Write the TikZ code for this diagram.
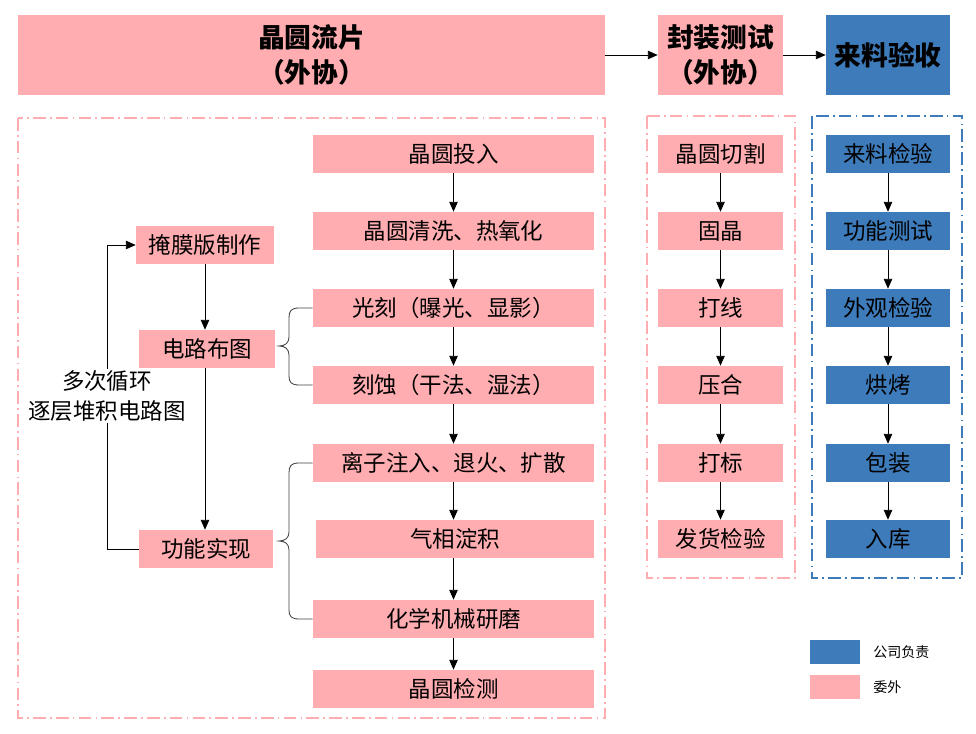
\documentclass[tikz,border=0pt]{standalone}
\usepackage{fontspec}
\setmainfont{Noto Sans CJK SC}
\usetikzlibrary{arrows.meta,positioning}
\definecolor{wafpink}{RGB}{255,173,176}
\definecolor{ownblue}{RGB}{61,123,186}

\begin{document}
\begin{tikzpicture}[
    x=0.025cm, y=-0.025cm,
    font=\fontsize{16}{19}\selectfont,
    pinkbox/.style={fill=wafpink, inner sep=0pt, minimum height=0.95cm, align=center},
    bluebox/.style={fill=ownblue, inner sep=0pt, minimum height=0.95cm, align=center},
    headbox/.style={inner sep=0pt, minimum height=2cm, align=center, font=\fontsize{19}{25}\selectfont\bfseries},
    frame/.style={dash pattern=on 9pt off 3pt on 1.2pt off 3pt, line width=1.2pt},
    line/.style={-{Triangle[length=7pt,width=6pt]}, semithick},
    brace/.style={semithick, black!75}
]
    \useasboundingbox (0,0) rectangle (976,734);

    \node[headbox, fill=wafpink, minimum width=14.675cm] (tapeout) at (311.5,55) {晶圆流片\\（外协）};
    \node[headbox, fill=wafpink, minimum width=3.125cm] (package) at (720.5,55) {封装测试\\（外协）};
    \node[headbox, fill=ownblue, minimum width=3.1cm] (accept) at (888,55) {来料验收};

    \draw[frame, wafpink] (18,118) rectangle (605,718);
    \draw[frame, wafpink] (647,116) rectangle (795,578);
    \draw[frame, ownblue] (812,116) rectangle (962,578);

    \node[pinkbox, minimum width=7.025cm] (wafin) at (453.5,154) {晶圆投入};
    \node[pinkbox, minimum width=7.025cm] (clean) at (453.5,231) {晶圆清洗、热氧化};
    \node[pinkbox, minimum width=7.025cm] (litho) at (453.5,308) {光刻（曝光、显影）};
    \node[pinkbox, minimum width=7.025cm] (etch) at (453.5,385) {刻蚀（干法、湿法）};
    \node[pinkbox, minimum width=7.025cm] (implant) at (453.5,463) {离子注入、退火、扩散};
    \node[pinkbox, minimum width=6.95cm] (depo) at (455,539) {气相淀积};
    \node[pinkbox, minimum width=7.025cm] (cmp) at (453.5,619) {化学机械研磨};
    \node[pinkbox, minimum width=7.025cm] (wafcheck) at (453.5,689) {晶圆检测};

    \node[pinkbox, minimum width=3.45cm] (mask) at (205,245) {掩膜版制作};
    \node[pinkbox, minimum width=3.42cm] (layout) at (207,349) {电路布图};
    \node[pinkbox, minimum width=3.35cm] (func) at (206,549) {功能实现};

    \node[pinkbox, minimum width=3.125cm] (dicing) at (720.5,154) {晶圆切割};
    \node[pinkbox, minimum width=3.125cm] (diebond) at (720.5,231) {固晶};
    \node[pinkbox, minimum width=3.125cm] (wirebond) at (720.5,308) {打线};
    \node[pinkbox, minimum width=3.125cm] (mold) at (720.5,385) {压合};
    \node[pinkbox, minimum width=3.125cm] (mark) at (720.5,463) {打标};
    \node[pinkbox, minimum width=3.125cm] (ship) at (720.5,539) {发货检验};

    \node[bluebox, minimum width=3.1cm] (iqc) at (888,154) {来料检验};
    \node[bluebox, minimum width=3.1cm] (functest) at (888,231) {功能测试};
    \node[bluebox, minimum width=3.1cm] (visual) at (888,308) {外观检验};
    \node[bluebox, minimum width=3.1cm] (bake) at (888,385) {烘烤};
    \node[bluebox, minimum width=3.1cm] (pack) at (888,463) {包装};
    \node[bluebox, minimum width=3.1cm] (store) at (888,539) {入库};

    \node[fill=ownblue, minimum width=1.25cm, minimum height=0.62cm, inner sep=0pt] (legblue) at (835,652) {};
    \node[right=0.2cm of legblue, font=\fontsize{10}{12}\selectfont] (legbluetxt) {公司负责};
    \node[fill=wafpink, minimum width=1.25cm, minimum height=0.62cm, inner sep=0pt] (legpink) at (835,687) {};
    \node[right=0.2cm of legpink, font=\fontsize{10}{12}\selectfont] (legpinktxt) {委外};

    \draw[line] (tapeout) -- (package);
    \draw[line] (package) -- (accept);

    \draw[line] (wafin) -- (clean);
    \draw[line] (clean) -- (litho);
    \draw[line] (litho) -- (etch);
    \draw[line] (etch) -- (implant);
    \draw[line] (implant) -- (implant |- depo.north);
    \draw[line] (depo.south -| cmp) -- (cmp);
    \draw[line] (cmp) -- (wafcheck);

    \draw[line] (dicing) -- (diebond);
    \draw[line] (diebond) -- (wirebond);
    \draw[line] (wirebond) -- (mold);
    \draw[line] (mold) -- (mark);
    \draw[line] (mark) -- (ship);

    \draw[line] (iqc) -- (functest);
    \draw[line] (functest) -- (visual);
    \draw[line] (visual) -- (bake);
    \draw[line] (bake) -- (pack);
    \draw[line] (pack) -- (store);

    \draw[line] (mask.south -| 205,0) -- (layout.north -| 205,0);
    \draw[line] (layout.south -| 205,0) -- (func.north -| 205,0);
    \draw[line] (func.west) -- (107,549) -- (107,245) -- (mask.west);
    \node[fill=white, inner sep=1pt, align=center, font=\fontsize{16}{21}\selectfont] (loop) at (107,396) {多次循环\\逐层堆积电路图};

    \draw[brace] (litho.west) -- (299,308) .. controls (291,308) and (289,311) .. (289,318) -- (289,337)
        .. controls (289,343) and (285,346) .. (279,346) .. controls (285,346) and (289,349) .. (289,355)
        -- (289,376) .. controls (289,382) and (291,385) .. (299,385) -- (etch.west);
    \draw[brace] (implant.west) -- (299,463) .. controls (291,463) and (289,466) .. (289,473) -- (289,532)
        .. controls (289,538) and (285,541) .. (279,541) .. controls (285,541) and (289,544) .. (289,550)
        -- (289,610) .. controls (289,616) and (291,619) .. (299,619) -- (cmp.west);
\end{tikzpicture}
\end{document}
